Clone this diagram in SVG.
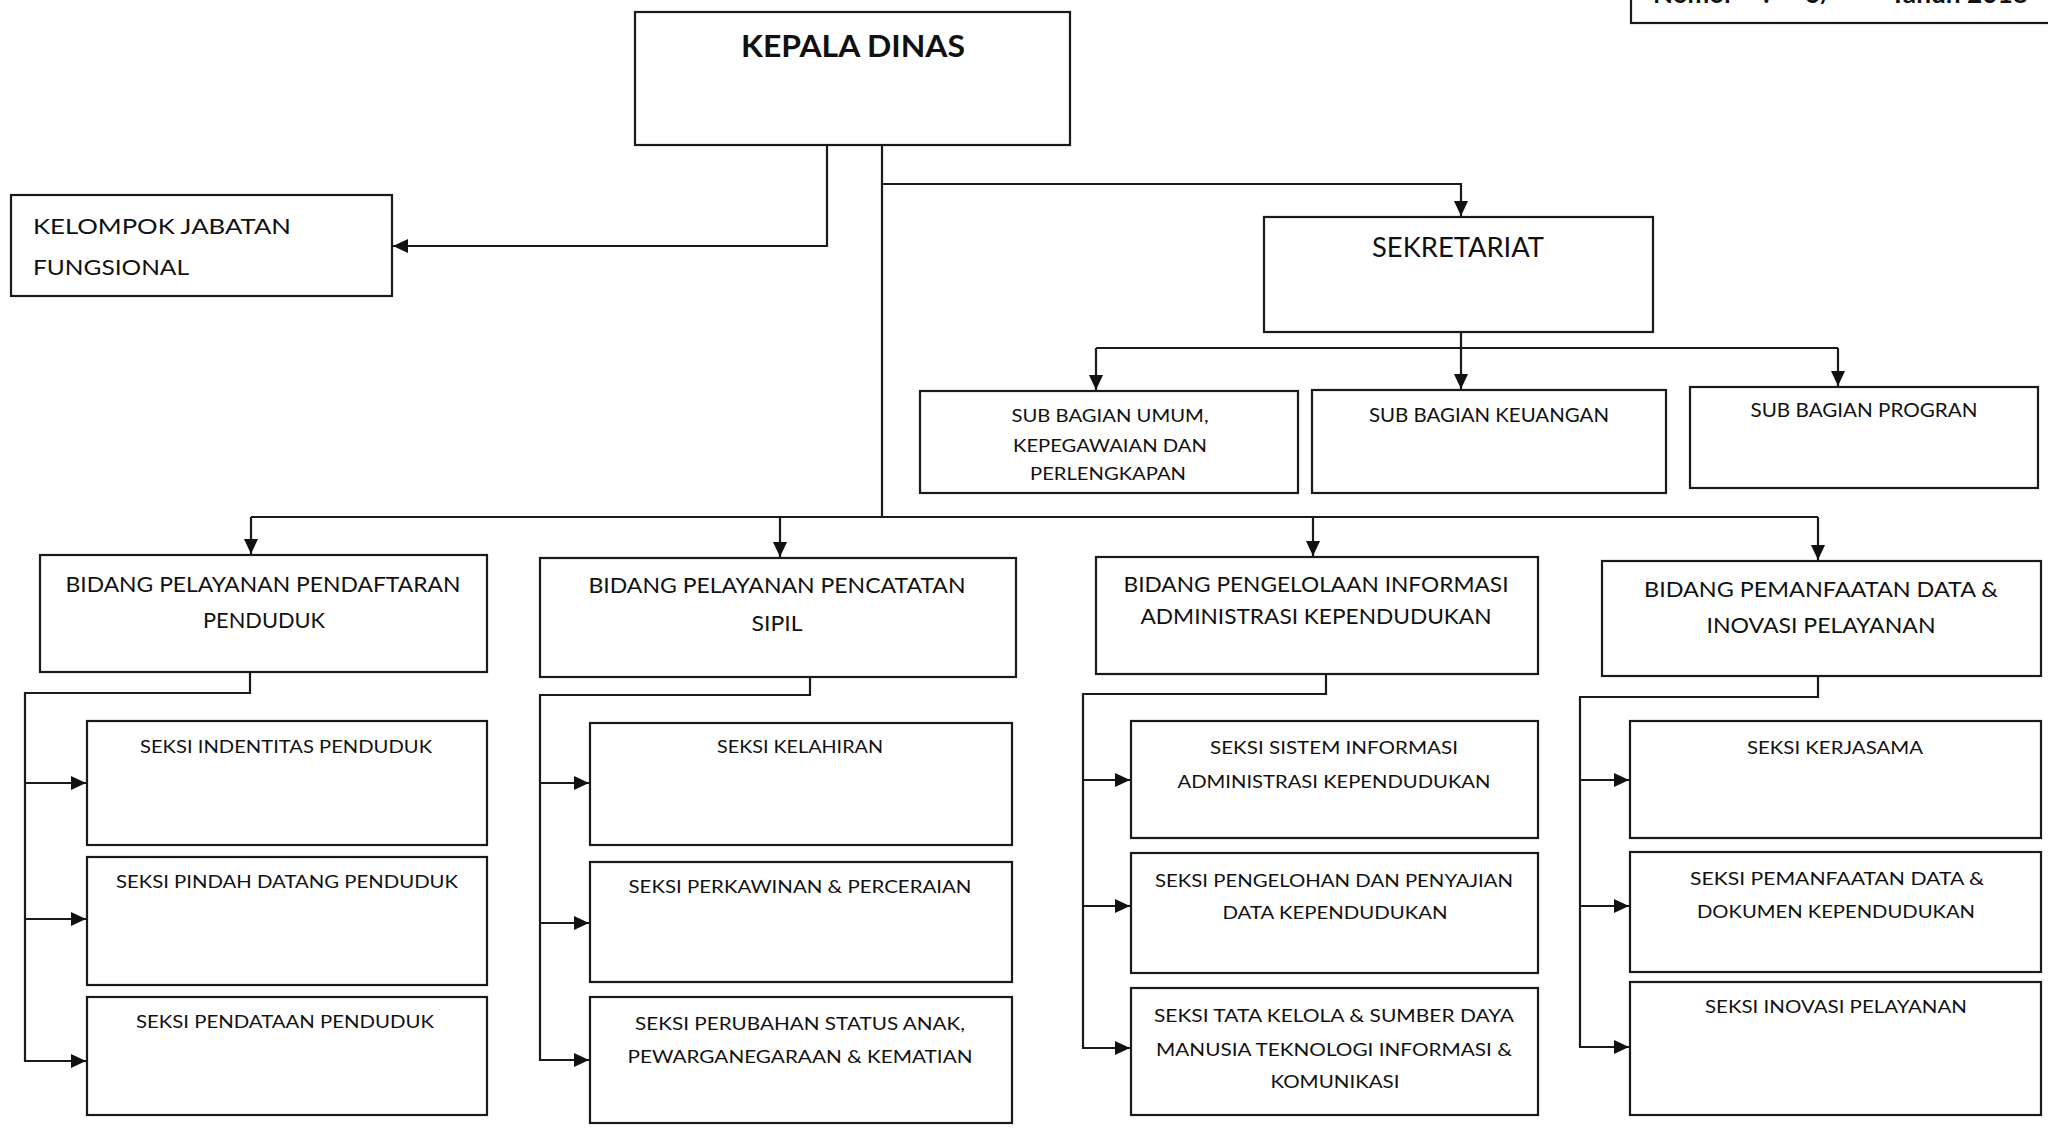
<svg xmlns="http://www.w3.org/2000/svg" width="2048" height="1128" viewBox="0 0 2048 1128">
<style>
  .box { fill: #ffffff; stroke: #1a1a1a; stroke-width: 2.2; }
  .ln { fill: none; stroke: #1a1a1a; stroke-width: 2.2; }
  text { font-family: Lato, "Liberation Sans", sans-serif; fill: #111111; }
  .t30 { font-size: 30px; font-weight: bold; }
  .t26 { font-size: 26px; }
  .t22 { font-size: 22px; }
  .t21 { font-size: 21px; }
  .t19 { font-size: 19px; }
  .t18 { font-size: 18px; }
  .c { text-anchor: middle; }
</style>
<defs>
  <marker id="ah" markerUnits="userSpaceOnUse" markerWidth="16" markerHeight="14" refX="15" refY="7" orient="auto">
    <path d="M0,0 L15,7 L0,14 Z" fill="#111111"/>
  </marker>
</defs>
<rect width="2048" height="1128" fill="#ffffff"/>

<g id="nomor">
  <rect class="box" x="1631" y="-6" width="430" height="29"/>
  <text x="1653" y="3" class="t26" font-weight="bold">Nomor</text>
  <text x="1763" y="3" class="t26" font-weight="bold">:</text>
  <text x="1805" y="3" class="t26" font-weight="bold">6/</text>
  <text x="1890" y="3" class="t26" font-weight="bold" textLength="138" lengthAdjust="spacingAndGlyphs">Tahun 2018</text>
</g>

<g id="connectors">
  <path class="ln" d="M827,145 V246 H393" marker-end="url(#ah)"/>
  <path class="ln" d="M882,145 V517"/>
  <path class="ln" d="M251,517 H1818"/>
  <path class="ln" d="M882,184 H1461 V216" marker-end="url(#ah)"/>
  <path class="ln" d="M1461,332 V389" marker-end="url(#ah)"/>
  <path class="ln" d="M1096,348 H1838"/>
  <path class="ln" d="M1096,348 V390" marker-end="url(#ah)"/>
  <path class="ln" d="M1838,348 V386" marker-end="url(#ah)"/>
  <path class="ln" d="M251,517 V554" marker-end="url(#ah)"/>
  <path class="ln" d="M780,517 V557" marker-end="url(#ah)"/>
  <path class="ln" d="M1313,517 V556" marker-end="url(#ah)"/>
  <path class="ln" d="M1818,517 V560" marker-end="url(#ah)"/>

  <path class="ln" d="M250,672 V693 H25 V1061 H86" marker-end="url(#ah)"/>
  <path class="ln" d="M25,783 H86" marker-end="url(#ah)"/>
  <path class="ln" d="M25,919 H86" marker-end="url(#ah)"/>

  <path class="ln" d="M810,677 V695 H540 V1060 H589" marker-end="url(#ah)"/>
  <path class="ln" d="M540,783 H589" marker-end="url(#ah)"/>
  <path class="ln" d="M540,923 H589" marker-end="url(#ah)"/>

  <path class="ln" d="M1326,674 V694 H1083 V1048 H1130" marker-end="url(#ah)"/>
  <path class="ln" d="M1083,780 H1130" marker-end="url(#ah)"/>
  <path class="ln" d="M1083,906 H1130" marker-end="url(#ah)"/>

  <path class="ln" d="M1818,676 V697 H1580 V1047 H1629" marker-end="url(#ah)"/>
  <path class="ln" d="M1580,780 H1629" marker-end="url(#ah)"/>
  <path class="ln" d="M1580,906 H1629" marker-end="url(#ah)"/>
</g>

<g id="kepala-dinas">
  <rect class="box" x="635" y="12" width="435" height="133"/>
  <text x="853" y="57" class="t30 c" textLength="224" lengthAdjust="spacingAndGlyphs">KEPALA DINAS</text>
</g>

<g id="kelompok-jabatan-fungsional">
  <rect class="box" x="11" y="195" width="381" height="101"/>
  <text x="33" y="234" class="t22" textLength="258" lengthAdjust="spacingAndGlyphs">KELOMPOK  JABATAN</text>
  <text x="33" y="275" class="t22" textLength="156" lengthAdjust="spacingAndGlyphs">FUNGSIONAL</text>
</g>

<g id="sekretariat">
  <rect class="box" x="1264" y="217" width="389" height="115"/>
  <text x="1458" y="257" class="t26 c" textLength="172" lengthAdjust="spacingAndGlyphs">SEKRETARIAT</text>
</g>

<g id="sub-bagian-umum">
  <rect class="box" x="920" y="391" width="378" height="102"/>
  <text x="1110" y="422" class="t18 c" textLength="197" lengthAdjust="spacingAndGlyphs">SUB BAGIAN UMUM,</text>
  <text x="1110" y="452" class="t18 c" textLength="194" lengthAdjust="spacingAndGlyphs">KEPEGAWAIAN DAN</text>
  <text x="1108" y="480" class="t18 c" textLength="156" lengthAdjust="spacingAndGlyphs">PERLENGKAPAN</text>
</g>

<g id="sub-bagian-keuangan">
  <rect class="box" x="1312" y="390" width="354" height="103"/>
  <text x="1489" y="422" class="t19 c" textLength="240" lengthAdjust="spacingAndGlyphs">SUB BAGIAN KEUANGAN</text>
</g>

<g id="sub-bagian-progran">
  <rect class="box" x="1690" y="387" width="348" height="101"/>
  <text x="1864" y="417" class="t19 c" textLength="227" lengthAdjust="spacingAndGlyphs">SUB BAGIAN PROGRAN</text>
</g>

<g id="bidang-pendaftaran">
  <rect class="box" x="40" y="555" width="447" height="117"/>
  <text x="263" y="592" class="t21 c" textLength="395" lengthAdjust="spacingAndGlyphs">BIDANG PELAYANAN PENDAFTARAN</text>
  <text x="264" y="628" class="t21 c" textLength="122" lengthAdjust="spacingAndGlyphs">PENDUDUK</text>
</g>

<g id="bidang-pencatatan">
  <rect class="box" x="540" y="558" width="476" height="119"/>
  <text x="777" y="593" class="t21 c" textLength="377" lengthAdjust="spacingAndGlyphs">BIDANG PELAYANAN PENCATATAN</text>
  <text x="777" y="631" class="t21 c" textLength="51" lengthAdjust="spacingAndGlyphs">SIPIL</text>
</g>

<g id="bidang-pengelolaan">
  <rect class="box" x="1096" y="557" width="442" height="117"/>
  <text x="1316" y="592" class="t21 c" textLength="385" lengthAdjust="spacingAndGlyphs">BIDANG PENGELOLAAN INFORMASI</text>
  <text x="1316" y="624" class="t21 c" textLength="351" lengthAdjust="spacingAndGlyphs">ADMINISTRASI KEPENDUDUKAN</text>
</g>

<g id="bidang-pemanfaatan">
  <rect class="box" x="1602" y="561" width="439" height="115"/>
  <text x="1821" y="597" class="t21 c" textLength="354" lengthAdjust="spacingAndGlyphs">BIDANG PEMANFAATAN DATA &amp;</text>
  <text x="1821" y="633" class="t21 c" textLength="229" lengthAdjust="spacingAndGlyphs">INOVASI PELAYANAN</text>
</g>

<g id="seksi-indentitas">
  <rect class="box" x="87" y="721" width="400" height="124"/>
  <text x="286" y="753" class="t18 c" textLength="292" lengthAdjust="spacingAndGlyphs">SEKSI INDENTITAS PENDUDUK</text>
</g>
<g id="seksi-pindah">
  <rect class="box" x="87" y="857" width="400" height="128"/>
  <text x="287" y="888" class="t18 c" textLength="342" lengthAdjust="spacingAndGlyphs">SEKSI PINDAH DATANG PENDUDUK</text>
</g>
<g id="seksi-pendataan">
  <rect class="box" x="87" y="997" width="400" height="118"/>
  <text x="285" y="1028" class="t18 c" textLength="298" lengthAdjust="spacingAndGlyphs">SEKSI PENDATAAN PENDUDUK</text>
</g>

<g id="seksi-kelahiran">
  <rect class="box" x="590" y="723" width="422" height="122"/>
  <text x="800" y="753" class="t18 c" textLength="166" lengthAdjust="spacingAndGlyphs">SEKSI KELAHIRAN</text>
</g>
<g id="seksi-perkawinan">
  <rect class="box" x="590" y="862" width="422" height="120"/>
  <text x="800" y="893" class="t18 c" textLength="343" lengthAdjust="spacingAndGlyphs">SEKSI PERKAWINAN &amp; PERCERAIAN</text>
</g>
<g id="seksi-perubahan">
  <rect class="box" x="590" y="997" width="422" height="126"/>
  <text x="800" y="1030" class="t18 c" textLength="330" lengthAdjust="spacingAndGlyphs">SEKSI PERUBAHAN STATUS ANAK,</text>
  <text x="800" y="1063" class="t18 c" textLength="345" lengthAdjust="spacingAndGlyphs">PEWARGANEGARAAN &amp; KEMATIAN</text>
</g>

<g id="seksi-sistem-informasi">
  <rect class="box" x="1131" y="721" width="407" height="117"/>
  <text x="1334" y="754" class="t18 c" textLength="248" lengthAdjust="spacingAndGlyphs">SEKSI SISTEM INFORMASI</text>
  <text x="1334" y="788" class="t18 c" textLength="313" lengthAdjust="spacingAndGlyphs">ADMINISTRASI KEPENDUDUKAN</text>
</g>
<g id="seksi-pengelohan">
  <rect class="box" x="1131" y="853" width="407" height="120"/>
  <text x="1334" y="887" class="t18 c" textLength="358" lengthAdjust="spacingAndGlyphs">SEKSI PENGELOHAN DAN PENYAJIAN</text>
  <text x="1335" y="919" class="t18 c" textLength="225" lengthAdjust="spacingAndGlyphs">DATA KEPENDUDUKAN</text>
</g>
<g id="seksi-tata-kelola">
  <rect class="box" x="1131" y="988" width="407" height="127"/>
  <text x="1334" y="1022" class="t18 c" textLength="360" lengthAdjust="spacingAndGlyphs">SEKSI TATA KELOLA &amp; SUMBER DAYA</text>
  <text x="1334" y="1056" class="t18 c" textLength="356" lengthAdjust="spacingAndGlyphs">MANUSIA TEKNOLOGI INFORMASI &amp;</text>
  <text x="1335" y="1088" class="t18 c" textLength="129" lengthAdjust="spacingAndGlyphs">KOMUNIKASI</text>
</g>

<g id="seksi-kerjasama">
  <rect class="box" x="1630" y="721" width="411" height="117"/>
  <text x="1835" y="754" class="t18 c" textLength="176" lengthAdjust="spacingAndGlyphs">SEKSI KERJASAMA</text>
</g>
<g id="seksi-pemanfaatan-data">
  <rect class="box" x="1630" y="852" width="411" height="120"/>
  <text x="1837" y="885" class="t18 c" textLength="294" lengthAdjust="spacingAndGlyphs">SEKSI PEMANFAATAN DATA &amp;</text>
  <text x="1836" y="918" class="t18 c" textLength="278" lengthAdjust="spacingAndGlyphs">DOKUMEN KEPENDUDUKAN</text>
</g>
<g id="seksi-inovasi">
  <rect class="box" x="1630" y="982" width="411" height="133"/>
  <text x="1836" y="1013" class="t18 c" textLength="262" lengthAdjust="spacingAndGlyphs">SEKSI INOVASI PELAYANAN</text>
</g>
</svg>
